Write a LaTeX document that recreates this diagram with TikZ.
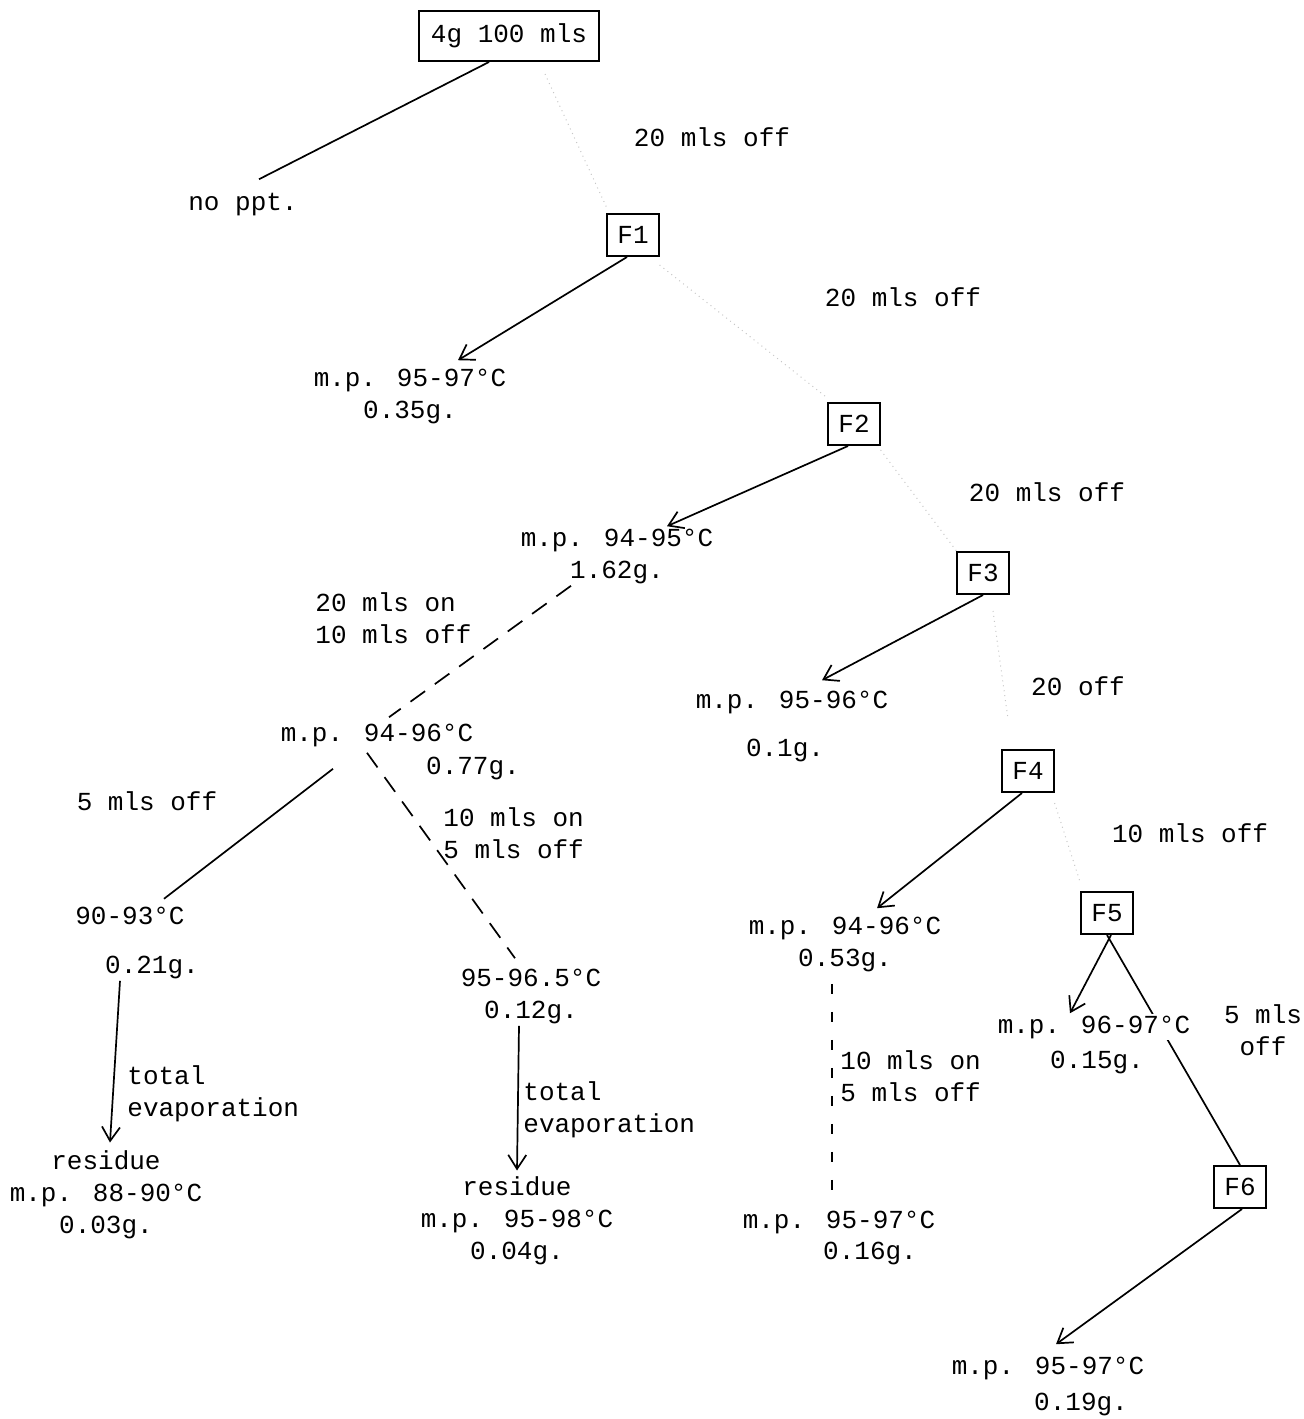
\documentclass[tikz,border=0pt]{standalone}
\usepackage{fontspec}
\setmainfont{Liberation Mono}
\usetikzlibrary{arrows.meta}

\begin{document}
\begin{tikzpicture}[x=0.5pt,y=-0.5pt,font=\fontsize{13}{16}\selectfont,>={Straight Barb[length=7pt,width=9pt]}]
  \tikzset{
    frac/.style={draw,line width=1pt,inner xsep=5pt,minimum height=21pt},
    txt/.style={inner sep=1pt,align=center},
    note/.style={inner sep=1pt,align=left,anchor=west},
    cut/.style={line width=0.85pt},
    wash/.style={cut,dash pattern=on 9pt off 6pt},
    washv/.style={cut,dash pattern=on 5pt off 9pt},
    liquor/.style={black!22,dotted,line width=0.5pt}
  }
  \useasboundingbox (0,0) rectangle (1303,1419);
  % mother liquor chain
  \node[frac,inner xsep=6pt,minimum height=25pt] (start) at (509,36) {4g 100 mls};
  \node[txt] (noppt) at (243,205) {no ppt.};
  \node[txt] (off1) at (712,137) {20 mls off};
  \node[frac] (F1) at (633,235) {F1};
  \node[txt] (mpA) at (410,396) {m.p. 95-97°C\\0.35g.};
  \node[txt] (off2) at (903,297) {20 mls off};
  \node[frac] (F2) at (854,424) {F2};
  \node[txt] (mpB) at (617,556) {m.p. 94-95°C\\1.62g.};
  \node[txt] (off3) at (1047,492) {20 mls off};
  \node[frac] (F3) at (983,573) {F3};
  \node[txt] (mpC) at (792,702) {m.p. 95-96°C};
  \node[txt] (gC) at (785,750) {0.1g.};
  \node[txt] (off4) at (1078,686) {20 off};
  \node[frac] (F4) at (1028,771) {F4};
  \node[txt] (mpD) at (845,944) {m.p. 94-96°C\\0.53g.};
  \node[note] (washD) at (838,1076) {10 mls on\\5 mls off};
  \node[txt] (mpDD) at (839,1222) {m.p. 95-97°C};
  \node[txt] (gDD) at (870,1253) {0.16g.};
  \node[txt] (off5) at (1190,833) {10 mls off};
  \node[frac] (F5) at (1107,913) {F5};
  \node[txt] (off6) at (1263,1030) {5 mls\\off};
  \node[frac] (F6) at (1240,1187) {F6};
  \node[txt] (mpF) at (1048,1368) {m.p. 95-97°C};
  \node[txt] (gF) at (1081,1404) {0.19g.};
  \draw[cut] (F5.south) -- (F6.north);
  \node[txt,fill=white] (mpE) at (1094,1027) {m.p. 96-97°C};
  \node[txt] (gE) at (1097,1062) {0.15g.};
  % recrystallisation of the 1.62g. crop
  \node[note] (washB) at (313,618) {20 mls on\\10 mls off};
  \node[txt] (mpG) at (377,735) {m.p. 94-96°C};
  \node[txt] (gG) at (473,768) {0.77g.};
  \node[txt] (offG) at (147,801) {5 mls off};
  \node[txt] (tL) at (130,916) {90-93°C};
  \node[txt] (gL) at (152,967) {0.21g.};
  \node[note] (evapL) at (125,1094) {total\\evaporation};
  \node[txt] (resL) at (106,1195) {residue\\m.p. 88-90°C\\0.03g.};
  \node[note] (washG) at (441,833) {10 mls on\\5 mls off};
  \node[txt] (mpH) at (531,996) {95-96.5°C\\0.12g.};
  \node[note] (evapM) at (521,1110) {total\\evaporation};
  \node[txt] (resM) at (517,1221) {residue\\m.p. 95-98°C\\0.04g.};

  \draw[cut] ([xshift=-10pt]start.south) -- ([xshift=8pt,yshift=6pt]noppt.north);
  \draw[cut,->] ([xshift=-3pt]F1.south) -- ([xshift=24pt,yshift=3pt]mpA.north);
  \draw[cut,->] ([xshift=-3pt]F2.south) -- ([xshift=25pt]mpB.north);
  \draw[cut,->] (F3.south) -- ([xshift=15pt,yshift=4pt]mpC.north);
  \draw[cut,->] ([xshift=-3pt]F4.south) -- ([xshift=16pt,yshift=3pt]mpD.north);
  \draw[cut,->] ([xshift=2pt]F5.south) -- ([xshift=-12pt]mpE.north);
  \draw[cut,->] ([xshift=1pt]F6.south) -- ([xshift=4pt,yshift=5pt]mpF.north);
  \draw[wash] ([xshift=-23pt]mpB.south) -- ([xshift=6pt,yshift=2pt]mpG.north);
  \draw[washv] ([xshift=-6.5pt,yshift=-5pt]mpD.south) -- ([xshift=-3.5pt,yshift=3pt]mpDD.north);
  \draw[cut] ([xshift=-22pt,yshift=-10pt]mpG.south) -- ([xshift=17pt,yshift=3pt]tL.north);
  \draw[wash] ([xshift=-5pt,yshift=-2pt]mpG.south) -- ([xshift=-8pt,yshift=4pt]mpH.north);
  \draw[cut,->] ([xshift=-16pt]gL.south) -- ([xshift=2pt,yshift=3pt]resL.north);
  \draw[cut,->] ([xshift=-6pt]mpH.south) -- ([yshift=2pt]resM.north);
  \draw[liquor] ([xshift=18pt,yshift=-6pt]start.south) -- ([yshift=3pt]F1.north west);
  \draw[liquor] ([yshift=-4pt]F1.south east) -- ([yshift=2pt]F2.north west);
  \draw[liquor] ([yshift=-2pt]F2.south east) -- (F3.north west);
  \draw[liquor] ([xshift=5pt,yshift=-8pt]F3.south) -- ([xshift=-10pt,yshift=15pt]F4.north);
  \draw[liquor] ([yshift=-5pt]F4.south east) -- ([yshift=4pt]F5.north west);
\end{tikzpicture}
\end{document}
